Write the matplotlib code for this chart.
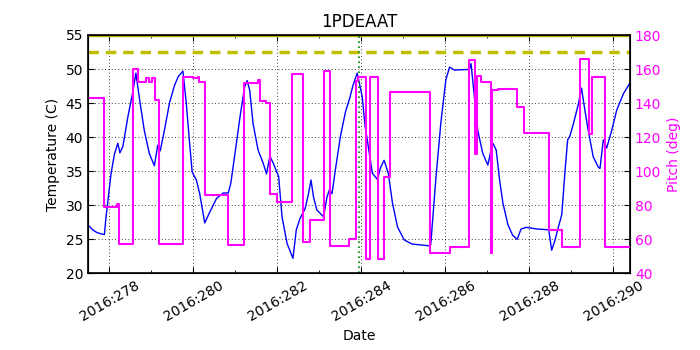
import matplotlib
matplotlib.use("Agg")
import matplotlib.pyplot as plt
from matplotlib.ticker import FixedLocator, MultipleLocator

temp_days = [277.49, 277.6, 277.7, 277.8, 277.88, 277.92, 278.04, 278.12, 278.2, 278.25, 278.32,
             278.44, 278.55, 278.63, 278.71, 278.83, 278.95, 279.07, 279.15, 279.21, 279.31,
             279.43, 279.55, 279.64, 279.75, 279.83, 279.91, 279.97, 280.07, 280.15, 280.27,
             280.39, 280.55, 280.71, 280.83, 280.89, 280.99, 281.11, 281.22, 281.28, 281.34,
             281.42, 281.54, 281.66, 281.74, 281.82, 281.9, 282.03, 282.11, 282.23, 282.37,
             282.45, 282.54, 282.66, 282.74, 282.8, 282.86, 282.94, 283.1, 283.18, 283.24,
             283.3, 283.38, 283.5, 283.62, 283.72, 283.8, 283.9, 283.97, 284.02, 284.09,
             284.14, 284.26, 284.38, 284.46, 284.54, 284.64, 284.74, 284.86, 285.02, 285.21,
             285.61, 285.65, 285.77, 285.89, 286.01, 286.1, 286.21, 286.57, 286.61, 286.69,
             286.77, 286.89, 287.01, 287.07, 287.13, 287.21, 287.29, 287.37, 287.49, 287.6,
             287.71, 287.8, 287.92, 288.2, 288.46, 288.53, 288.61, 288.69, 288.77, 288.85,
             288.91, 288.96, 289.04, 289.16, 289.24, 289.32, 289.4, 289.52, 289.64, 289.68,
             289.76, 289.84, 289.96, 290.08, 290.24, 290.39]
temp_vals = [27.1, 26.4, 26.0, 25.8, 25.7, 28.3, 34.7, 37.5, 39.1, 37.7, 38.6,
             43.0, 46.4, 49.4, 45.9, 41.0, 37.6, 35.8, 38.8, 38.0, 41.0,
             45.0, 47.6, 48.9, 49.7, 45.0, 39.1, 34.9, 33.7, 31.7, 27.4,
             29.0, 31.0, 31.8, 31.8, 33.2, 37.6, 43.0, 47.4, 48.3, 46.9,
             42.0, 38.1, 36.2, 34.6, 37.2, 36.2, 34.2, 28.3, 24.4, 22.2,
             26.4, 28.1, 29.5, 31.7, 33.7, 31.2, 29.3, 28.3, 31.2, 32.3,
             31.7, 35.2, 40.1, 43.7, 45.7, 47.6, 49.4, 47.4, 45.9, 41.5,
             39.6, 34.7, 33.8, 35.6, 36.6, 34.7, 30.3, 26.8, 24.9, 24.3,
             24.05, 24.2, 33.7, 42.0, 48.4, 50.3, 49.85, 49.95, 50.8, 45.9,
             41.0, 37.6, 35.9, 37.6, 39.1, 38.1, 33.7, 30.3, 27.1, 25.6,
             25.0, 26.5, 26.75, 26.5, 26.4, 23.4, 24.9, 26.8, 28.6, 35.2,
             39.6, 40.1, 41.8, 44.7, 47.2, 44.0, 41.0, 37.1, 35.6, 35.4,
             39.6, 38.4, 41.0, 44.0, 46.4, 47.9]

pitch_days = [277.49, 277.88, 278.19, 278.22, 278.56, 278.67, 278.86, 278.94, 279.02, 279.09,
              279.17, 279.75, 279.99, 280.11, 280.13, 280.27, 280.83, 281.21, 281.53, 281.58,
              281.74, 281.82, 282.0, 282.35, 282.62, 282.77, 283.12, 283.26, 283.71, 283.88,
              283.93, 284.1, 284.2, 284.4, 284.54, 284.67, 285.64, 286.1, 286.57, 286.715,
              286.75, 286.85, 287.08, 287.12, 287.25, 287.71, 287.86, 288.47, 288.77, 289.2,
              289.42, 289.5, 289.81, 290.4]
pitch_vals = [142.8, 79.1, 80.5, 57.2, 160.0, 152.6, 155.0, 152.6, 155.0, 141.8,
              57.2, 155.5, 154.6, 155.5, 152.6, 86.0, 56.7, 151.6, 153.5, 141.4,
              140.0, 86.4, 82.1, 156.9, 58.2, 71.3, 159.0, 56.0, 60.0, 153.0,
              155.5, 48.2, 155.5, 48.2, 96.8, 146.5, 51.7, 55.6, 165.3, 110.1,
              155.9, 152.6, 51.7, 147.7, 148.3, 137.9, 122.6, 65.4, 55.6, 165.7,
              121.7, 155.5, 55.3, 55.3]

limit_planning = 52.5
limit_top = 55.0
event_day = 283.94

x_ticks = [278, 280, 282, 284, 286, 288, 290]
x_labels = ["2016:278", "2016:280", "2016:282", "2016:284", "2016:286", "2016:288", "2016:290"]

plt.rcParams['font.family'] = ['DejaVu Sans']
fig = plt.figure(figsize=(7, 3.5), dpi=100)
ax1 = fig.add_axes([0.1257, 0.219, 0.9 - 0.1257, 0.9 - 0.219])
ax1.plot(temp_days, temp_vals, color='b', lw=1.0)
ax1.axhline(limit_planning, color=(0.75, 0.75, 0), lw=2.5, ls='--', dashes=(3, 2))
ax1.axhline(limit_top, color=(0.75, 0.75, 0), lw=2.5)
ax1.axvline(event_day, color=(0, 0.5, 0), lw=1.2, ls=(0, (1, 2)))
ax1.set_xlim(277.49, 290.395)
ax1.set_ylim(20, 55)
ax1.xaxis.set_major_locator(FixedLocator(x_ticks))
ax1.xaxis.set_minor_locator(MultipleLocator(1))
ax1.set_xticklabels(x_labels, rotation=30, ha='center')
ax1.yaxis.set_major_locator(MultipleLocator(5))
ax1.grid(True, color='k', ls=(0, (1, 3)), lw=0.6)
ax1.tick_params(direction='in', length=4, labelsize=10, top=True)
ax1.tick_params(which='minor', direction='in', length=2, top=True)
ax1.set_xlabel("Date", fontsize=10)
ax1.set_ylabel("Temperature (C)", fontsize=10)
ax1.set_title("1PDEAAT", fontsize=12)
for s in ax1.spines.values():
    s.set_linewidth(1.2)

ax2 = ax1.twinx()
ax2.plot(pitch_days, pitch_vals, color='#ff00ff', lw=1.5, drawstyle='steps-post')
ax2.set_ylim(40, 180)
ax2.yaxis.set_major_locator(MultipleLocator(20))
ax2.tick_params(direction='in', length=4, labelsize=10, labelcolor='#ff00ff')
ax2.set_ylabel("Pitch (deg)", color='#ff00ff', fontsize=10)
ax2.set_xlim(277.49, 290.395)

fig.savefig("out.png", dpi=100)
